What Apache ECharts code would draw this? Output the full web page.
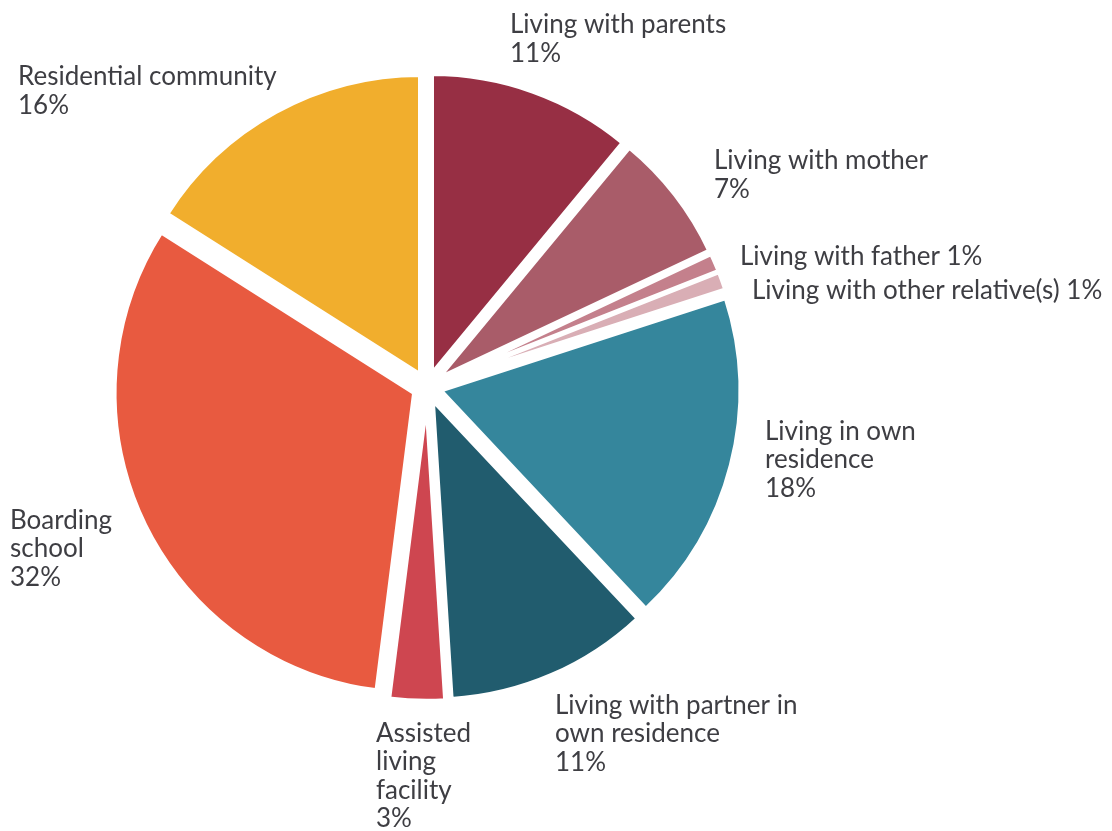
<!DOCTYPE html>
<html>
<head>
<meta charset="utf-8">
<title>Living arrangements</title>
<script src="https://cdn.jsdelivr.net/npm/echarts@6/dist/echarts.min.js"></script>
<style>
  html, body { margin: 0; padding: 0; background: #ffffff; }
  #chart { width: 1112px; height: 831px; }
</style>
</head>
<body>
<div id="chart"></div>
<script>
// Categories (clockwise from the top) and their shares in percent
const categories = [
  'Living with parents',
  'Living with mother',
  'Living with father',
  'Living with other relative(s)',
  'Living in own\nresidence',
  'Living with partner in\nown residence',
  'Assisted\nliving\nfacility',
  'Boarding\nschool',
  'Residential community'
];
const shares = [11, 7, 1, 1, 18, 11, 3, 32, 16];

// Slice colours
const colors = [
  '#972F44', '#A95C69', '#C4808C', '#D9AEB5',
  '#35869C', '#215C6E', '#CE4650', '#E85A40', '#F1AE2D'
];

// Label block positions: left edge and vertical middle of the block
const labelSpots = [
  [510, 39], [714, 175], [740, 257], [752, 291],
  [765, 460], [555, 734], [376, 776], [10, 549], [18, 91]
];
// Short labels stay on one line with their value
const inlineValue = [false, false, true, true, false, false, false, false, false];

const CENTER = [427, 387];
const EXPLODE = 14;

// Each slice is pushed out along its middle angle; its label travels with it
const total = shares.reduce((a, b) => a + b, 0);
let acc = 0;
const sliceShift = shares.map(v => {
  const mid = (acc + v / 2) / total * Math.PI * 2;
  acc += v;
  return [EXPLODE * Math.sin(mid), -EXPLODE * Math.cos(mid)];
});

const chart = echarts.init(document.getElementById('chart'), null, { renderer: 'canvas' });

chart.setOption({
  animation: false,
  backgroundColor: '#ffffff',
  series: [{
    type: 'pie',
    center: CENTER,
    radius: 300,
    startAngle: 90,
    clockwise: true,
    selectedMode: 'multiple',
    selectedOffset: EXPLODE,
    avoidLabelOverlap: false,
    itemStyle: { borderColor: '#ffffff', borderWidth: 4.5 },
    emphasis: { disabled: true },
    label: {
      show: true,
      position: 'outside',
      alignTo: 'none',
      fontFamily: 'Lato',
      fontSize: 26,
      lineHeight: 28.5,
      color: '#3E3E43',
      formatter: p => categories[p.dataIndex] + (inlineValue[p.dataIndex] ? ' ' : '\n') + p.value + '%'
    },
    labelLine: { show: false },
    labelLayout: p => {
      const i = p.dataIndex;
      const spot = labelSpots[i];
      const r = p.labelRect;
      const align = p.align || (r.x + r.width / 2 < CENTER[0] ? 'right' : 'left');
      const anchorX = align === 'right' ? r.x + r.width
        : align === 'center' ? r.x + r.width / 2 : r.x;
      return {
        dx: spot[0] - anchorX - sliceShift[i][0],
        dy: spot[1] - (r.y + r.height / 2) - sliceShift[i][1],
        align: 'left',
        hideOverlap: false
      };
    },
    data: shares.map((v, i) => ({
      name: categories[i],
      value: v,
      selected: true,
      itemStyle: { color: colors[i] }
    }))
  }]
});
</script>
</body>
</html>
